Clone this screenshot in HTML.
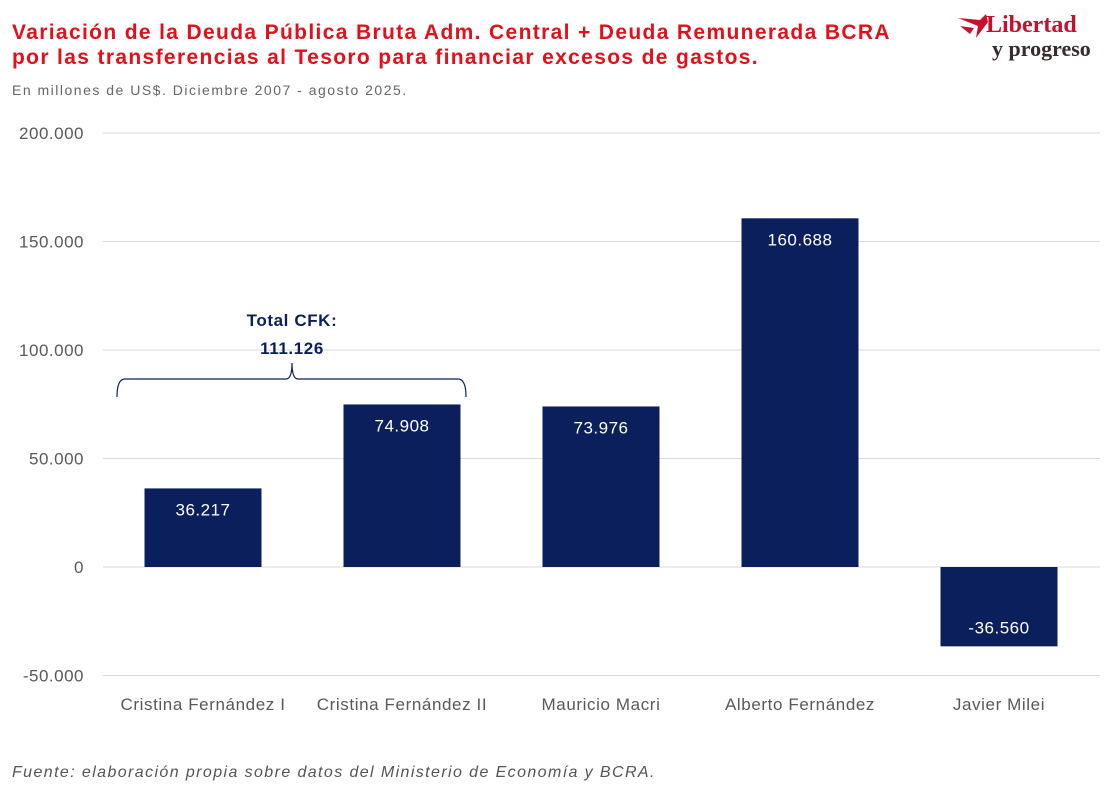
<!DOCTYPE html>
<html><head><meta charset="utf-8">
<style>
body{margin:0;background:#fff;width:1116px;height:809px;overflow:hidden;font-family:"Liberation Sans",sans-serif;}
.t{position:absolute;left:12px;color:#e3101b;font-weight:bold;font-size:21px;line-height:25px;letter-spacing:1.35px;}
</style></head><body>
<div class="t" style="top:20px">Variación de la Deuda Pública Bruta Adm. Central + Deuda Remunerada BCRA<br>por las transferencias al Tesoro para financiar excesos de gastos.</div>
<div style="position:absolute;left:12px;top:82px;font-size:14px;color:#666;letter-spacing:1.5px">En millones de US$. Diciembre 2007 - agosto 2025.</div>
<div style="position:absolute;left:956px;top:10px;width:150px;height:60px">
<svg width="40" height="40" style="position:absolute;left:0;top:2px"><path d="M2 6 L24 8 L30 2 L32 10 L20 26 L22 14 Z" fill="#c8102e"/><path d="M4 14 L18 16 L14 22 Z" fill="#c8102e"/></svg>
<div style="position:absolute;left:30px;top:2px;font-family:'Liberation Serif',serif;font-size:24px;color:#c8102e;font-weight:bold">Libertad</div>
<div style="position:absolute;left:36px;top:26px;font-family:'Liberation Serif',serif;font-size:22px;color:#3a2a2a;font-weight:bold">y progreso</div>
</div>
<svg id="c" width="1116" height="809" style="position:absolute;left:0;top:0"></svg>
<div style="position:absolute;left:12px;top:764px;font-size:16px;font-style:italic;color:#555;letter-spacing:1.4px">Fuente: elaboración propia sobre datos del Ministerio de Economía y BCRA.</div>
<script>
const categories=["Cristina Fernández I","Cristina Fernández II","Mauricio Macri","Alberto Fernández","Javier Milei"];
const values=[36217,74908,73976,160688,-36560];
const valueLabels=["36.217","74.908","73.976","160.688","-36.560"];
const ticks=[200000,150000,100000,50000,0,-50000];
const tickLabels=["200.000","150.000","100.000","50.000","0","-50.000"];
const ns="http://www.w3.org/2000/svg",svg=document.getElementById('c');
const y=v=>567-v*(108.5/50000);
const x=i=>203+i*199;
function mk(t,a,txt){const e=document.createElementNS(ns,t);for(const k in a)e.setAttribute(k,a[k]);if(txt!==undefined)e.textContent=txt;svg.appendChild(e);return e;}
ticks.forEach((t,i)=>{
 const l=mk('line',{x1:103,x2:1100,y1:y(t),y2:y(t),stroke:'#d9d9d9','stroke-width':1});
 
 
 const tx=mk('text',{x:84,y:y(t)+6,'text-anchor':'end','font-size':17,fill:'#595959','letter-spacing':0.5},tickLabels[i]);
 
 
});
categories.forEach((c,i)=>{
 const v=values[i],top=Math.min(y(v),y(0)),h=Math.abs(y(v)-y(0));
 const r=mk('rect',{x:x(i)-58.5,y:top,width:117,height:h,fill:'#0b1f5c'});
 
 
 const ty=v>=0?top+27:top+h-13;
 const vl=mk('text',{x:x(i),y:ty,'text-anchor':'middle','font-size':17,fill:'#fff','letter-spacing':0.5},valueLabels[i]);
 
 
 const cl=mk('text',{x:x(i),y:710,'text-anchor':'middle','font-size':17,fill:'#595959','letter-spacing':0.6},c);
 
 
});
const br=mk('path',{d:'M117 397 Q117 379 125 379 L286 379 Q292 379 292 363 Q292 379 298 379 L458 379 Q466 379 466 397',fill:'none',stroke:'#0b1f5c','stroke-width':1.2});


const a1=mk('text',{x:292,y:326,'text-anchor':'middle','font-size':17,'font-weight':'bold',fill:'#0b1f5c','letter-spacing':0.6},'Total CFK:');


const a2=mk('text',{x:292,y:354,'text-anchor':'middle','font-size':17,'font-weight':'bold',fill:'#0b1f5c','letter-spacing':0.6},'111.126');


</script>
</body></html>
